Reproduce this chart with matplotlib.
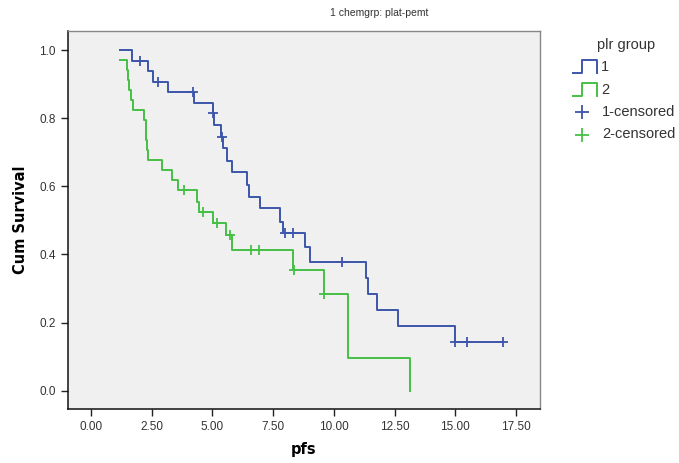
import matplotlib.pyplot as plt
from matplotlib.lines import Line2D
import numpy as np

# group 1 (blue): event times and survival after each step
times_1 = [1.19, 1.70, 2.36, 2.57, 3.19, 4.22, 5.03, 5.05, 5.36, 5.45, 5.59, 5.79,
           6.41, 6.52, 6.96, 7.78, 7.92, 8.81, 9.02, 11.31, 11.39, 11.76, 12.63, 14.99]
surv_1 = [1.0, 0.969, 0.940, 0.907, 0.878, 0.846, 0.814, 0.780, 0.746, 0.711, 0.675, 0.641,
          0.604, 0.569, 0.535, 0.496, 0.462, 0.423, 0.379, 0.330, 0.283, 0.237, 0.190, 0.142]
cens_t_1 = [2.02, 2.77, 4.19, 5.04, 5.38, 7.99, 8.33, 10.32, 14.99, 15.50, 16.95]
cens_s_1 = [0.969, 0.907, 0.878, 0.814, 0.746, 0.462, 0.462, 0.379, 0.142, 0.142, 0.142]

# group 2 (green)
times_2 = [1.19, 1.47, 1.52, 1.58, 1.65, 1.72, 2.20, 2.25, 2.28, 2.32, 2.36, 2.91,
           3.32, 3.60, 4.38, 4.46, 5.04, 5.57, 5.79, 8.30, 9.59, 10.60, 13.13]
surv_2 = [0.971, 0.941, 0.912, 0.883, 0.853, 0.824, 0.795, 0.765, 0.736, 0.706, 0.677, 0.648,
          0.618, 0.589, 0.555, 0.525, 0.493, 0.457, 0.413, 0.354, 0.284, 0.095, 0.0]
cens_t_2 = [3.83, 4.60, 5.18, 5.72, 6.57, 6.93, 8.37, 9.59]
cens_s_2 = [0.589, 0.525, 0.493, 0.457, 0.413, 0.413, 0.354, 0.284]

x_ticks = [0, 2.5, 5, 7.5, 10, 12.5, 15, 17.5]
y_ticks = [0.0, 0.2, 0.4, 0.6, 0.8, 1.0]

BLUE = '#3d55aa'
GREEN = '#46bf46'
TXT = '#333333'

W, H = 679, 463
fig = plt.figure(figsize=(W / 100, H / 100), dpi=100)
fig.patch.set_facecolor('white')
ax = fig.add_axes([68 / W, 1 - 409 / H, (540 - 68) / W, (409 - 31) / H])
ax.set_facecolor('#f0f0f0')


def step_xy(t, s, t_end):
    # step curve extended to the last follow-up time
    return list(t) + [t_end], list(s) + [s[-1]]


x1, y1 = step_xy(times_1, surv_1, max(cens_t_1))
x2, y2 = step_xy(times_2, surv_2, times_2[-1])
ax.step(x1, y1, where='post', color=BLUE, lw=1.4)
ax.step(x2, y2, where='post', color=GREEN, lw=1.4)
ax.plot(cens_t_1, cens_s_1, ls='none', marker='+', ms=7, mew=1.3, color=BLUE)
ax.plot(cens_t_2, cens_s_2, ls='none', marker='+', ms=7, mew=1.3, color=GREEN)

ax.set_xlim(-0.947, 18.485)
ax.set_ylim(-0.054, 1.056)
ax.set_xticks(x_ticks)
ax.set_xticklabels([f'{v:.2f}' for v in x_ticks])
ax.set_yticks(y_ticks)
ax.set_yticklabels([f'{v:.1f}' for v in y_ticks])
ax.tick_params(direction='out', length=5, width=1, color='#222222',
               labelsize=8.5, labelcolor=TXT, pad=4)
for lab in ax.get_xticklabels() + ax.get_yticklabels():
    lab.set_family('Liberation Sans')
for side in ['left', 'bottom']:
    ax.spines[side].set_color('#111111')
    ax.spines[side].set_linewidth(1.1)
for side in ['top', 'right']:
    ax.spines[side].set_color('#888888')
    ax.spines[side].set_linewidth(1.0)

ax.set_xlabel('pfs', fontsize=10.5, fontweight='bold', labelpad=6)
ax.set_ylabel('Cum Survival', fontsize=10.5, fontweight='bold', labelpad=8)

fig.text(379 / W, 1 - 13 / H, '1 chemgrp: plat-pemt', ha='center', va='center',
         fontsize=7.5, family='Liberation Sans', color=TXT)


# legend drawn by hand in pixel positions
def px(x, y):
    return x / W, 1 - y / H


fig.text(*px(597, 45), 'plr group', ha='left', va='center', fontsize=10.5,
         family='Liberation Sans', color=TXT)
for i, (col, name) in enumerate([(BLUE, '1'), (GREEN, '2')]):
    yc = 67 + i * 22.5
    xs = [573, 582, 582, 597, 597]
    ys = [yc + 6, yc + 6, yc - 6.5, yc - 6.5, yc + 6]
    fx, fy = zip(*[px(a, b) for a, b in zip(xs, ys)])
    fig.add_artist(Line2D(fx, fy, color=col, lw=1.4, transform=fig.transFigure))
    fig.text(*px(601, yc), name, ha='left', va='center', fontsize=10.5,
             family='Liberation Sans', color=TXT)
for i, (col, name) in enumerate([(BLUE, '1-censored'), (GREEN, '2-censored')]):
    yc = 112 + i * 22.5
    fx, fy = px(582, yc)
    fig.add_artist(Line2D([fx], [fy], ls='none', marker='+', ms=10, mew=1.3,
                          color=col, transform=fig.transFigure))
    fig.text(*px(602, yc), name, ha='left', va='center', fontsize=10.5,
             family='Liberation Sans', color=TXT)

fig.savefig('out.png', dpi=100)
